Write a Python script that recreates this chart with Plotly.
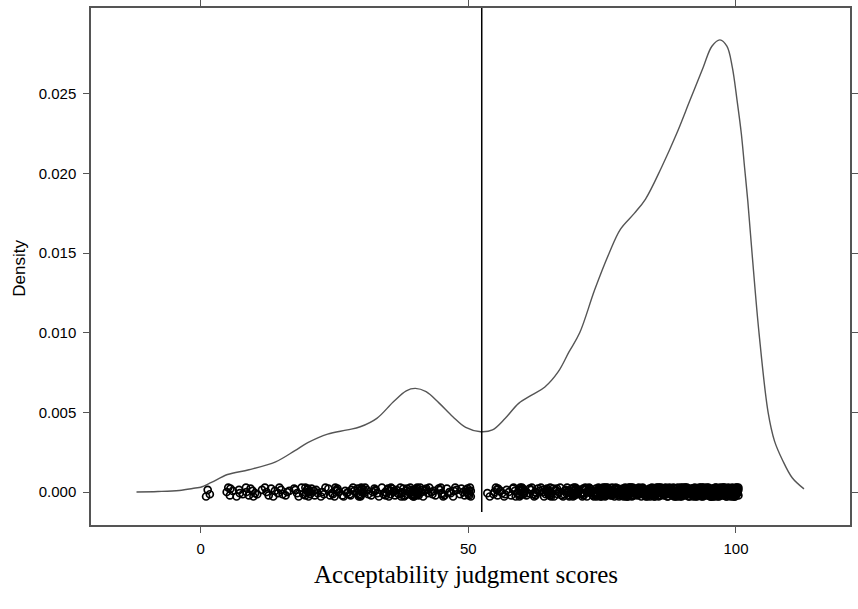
import plotly.graph_objects as go

# Density curve
curve_x = [-12, -8, -4, -1, 0, 2, 5, 9, 14, 17.6, 20, 23.7, 27.4, 29.8, 32.9, 36, 38.4, 40.1, 42.1, 44.5, 47.1, 49.5,
           52.3, 54.5, 56.9, 59.4, 61.9, 64.3, 66.8, 68.8, 70.8, 73.6, 76.3, 78.4, 81, 83.1, 86.1, 88.9, 91.4, 93.9,
           95.5, 97, 98.3, 99.3, 100.2, 101, 101.6, 102.2, 103, 104.3, 106, 107.2, 108.7, 110.5, 112.7]
curve_y = [0.0, 0.00003, 0.0001, 0.00025, 0.0003, 0.0006, 0.0011, 0.0014, 0.0019, 0.0026, 0.0031, 0.00364, 0.0039, 0.0041,
           0.00463, 0.00567, 0.00636, 0.00651, 0.0063, 0.0056, 0.00473, 0.00406, 0.00379, 0.0039, 0.00463, 0.00557,
           0.0061, 0.0066, 0.00756, 0.0088, 0.0100, 0.0127, 0.0150, 0.0165, 0.0175, 0.0184, 0.0204, 0.0225, 0.0246,
           0.0267, 0.0280, 0.0284, 0.0280, 0.0267, 0.0246, 0.0225, 0.0204, 0.0183, 0.0150, 0.0100, 0.0050, 0.0032,
           0.0020, 0.0009, 0.0002]

# Individual scores (rug): score values and how many raters gave them
score_values = [1, 2, 5, 6, 7, 8, 9, 10, 11, 12, 13, 14, 15, 16, 17, 18, 19, 20, 21, 22, 23, 24, 25, 26, 27, 28, 29, 30,
                31, 32, 33, 34, 35, 36, 37, 38, 39, 40, 41, 42, 43, 44, 45, 46, 47, 48, 49, 50,
                54, 55, 56, 57, 58, 59, 60, 61, 62, 63, 64, 65, 66, 67, 68, 69, 70, 71, 72, 73, 74, 75,
                76, 77, 78, 79, 80, 81, 82, 83, 84, 85, 86, 87, 88, 89, 90, 91, 92, 93, 94, 95, 96, 97, 98, 99, 100]
score_counts = [2, 1, 3, 2, 3, 2, 3, 3, 2, 2, 2, 3, 3, 2, 2, 3, 2, 10, 3, 3, 3, 2, 6, 3, 3, 5, 3, 10,
                3, 3, 4, 3, 7, 5, 5, 6, 6, 12, 5, 5, 3, 3, 5, 3, 3, 3, 3, 10,
                2, 5, 3, 3, 4, 4, 12, 4, 5, 4, 5, 10, 5, 5, 6, 6, 14, 6, 8, 9, 9, 18,
                11, 11, 12, 11, 20, 11, 11, 11, 11, 18, 12, 14, 14, 14, 22, 15, 16, 16, 16, 22, 18, 18, 18, 17, 24]

cutoff = 52.5

# expand rug with a fixed (non-random) jitter pattern for display
y_jit = [-0.00028, 0.00014, -0.00014, 0.00028, 0.0, -0.00021, 0.00021, 0.00007, -0.00007]
x_jit = [0.0, 0.3, -0.3, 0.15, -0.15, 0.45, -0.45]
rug_x, rug_y = [], []
k = 0
for v, c in zip(score_values, score_counts):
    for i in range(c):
        rug_x.append(v + x_jit[k % len(x_jit)])
        rug_y.append(y_jit[k % len(y_jit)])
        k += 1

fig = go.Figure()
fig.add_trace(go.Scatter(x=curve_x, y=curve_y, mode="lines",
                         line=dict(color="#555555", width=1.4, shape="spline", smoothing=1.0),
                         showlegend=False, hoverinfo="skip"))
fig.add_trace(go.Scatter(x=rug_x, y=rug_y, mode="markers",
                         marker=dict(symbol="circle-open", size=7, color="black", line=dict(width=1.7)),
                         showlegend=False))
fig.add_trace(go.Scatter(x=[cutoff, cutoff], y=[-0.00125, 0.0304], mode="lines",
                         line=dict(color="black", width=1.5), showlegend=False))

axis_font = dict(family="Liberation Sans, Arial, sans-serif", size=15, color="black")
fig.update_layout(
    width=858, height=609,
    margin=dict(l=91, r=0, t=8, b=84),
    paper_bgcolor="white", plot_bgcolor="white",
    xaxis=dict(range=[-20.5, 121.3], tickvals=[0, 50, 100], ticktext=["0", "50", "100"],
               ticks="outside", ticklen=6, tickcolor="#555555", showgrid=False, zeroline=False,
               showline=True, linecolor="#555555", linewidth=1.5, mirror="ticks", tickfont=axis_font,
               ticklabelstandoff=3),
    yaxis=dict(range=[-0.00207, 0.0304], tickvals=[0, 0.005, 0.01, 0.015, 0.02, 0.025],
               ticktext=["0.000", "0.005", "0.010", "0.015", "0.020", "0.025"],
               ticks="outside", ticklen=6, tickcolor="#555555", showgrid=False, zeroline=False,
               showline=True, linecolor="#555555", linewidth=1.5, mirror="ticks", tickfont=axis_font,
               ticklabelstandoff=4),
    annotations=[
        dict(text="Density", xref="paper", yref="paper", x=-0.0952, y=0.497, showarrow=False, textangle=-90,
             font=dict(family="Liberation Sans, Arial, sans-serif", size=17, color="black"),
             xanchor="center", yanchor="middle"),
        dict(text="Acceptability judgment scores", xref="paper", yref="paper", x=0.494, y=-0.0967, showarrow=False,
             font=dict(family="Liberation Serif, Times New Roman, serif", size=25, color="black"),
             xanchor="center", yanchor="middle"),
    ],
)

fig.write_html("out.html", config={"displayModeBar": False},
               post_script="document.body.style.margin='0';document.body.style.overflow='hidden';")
